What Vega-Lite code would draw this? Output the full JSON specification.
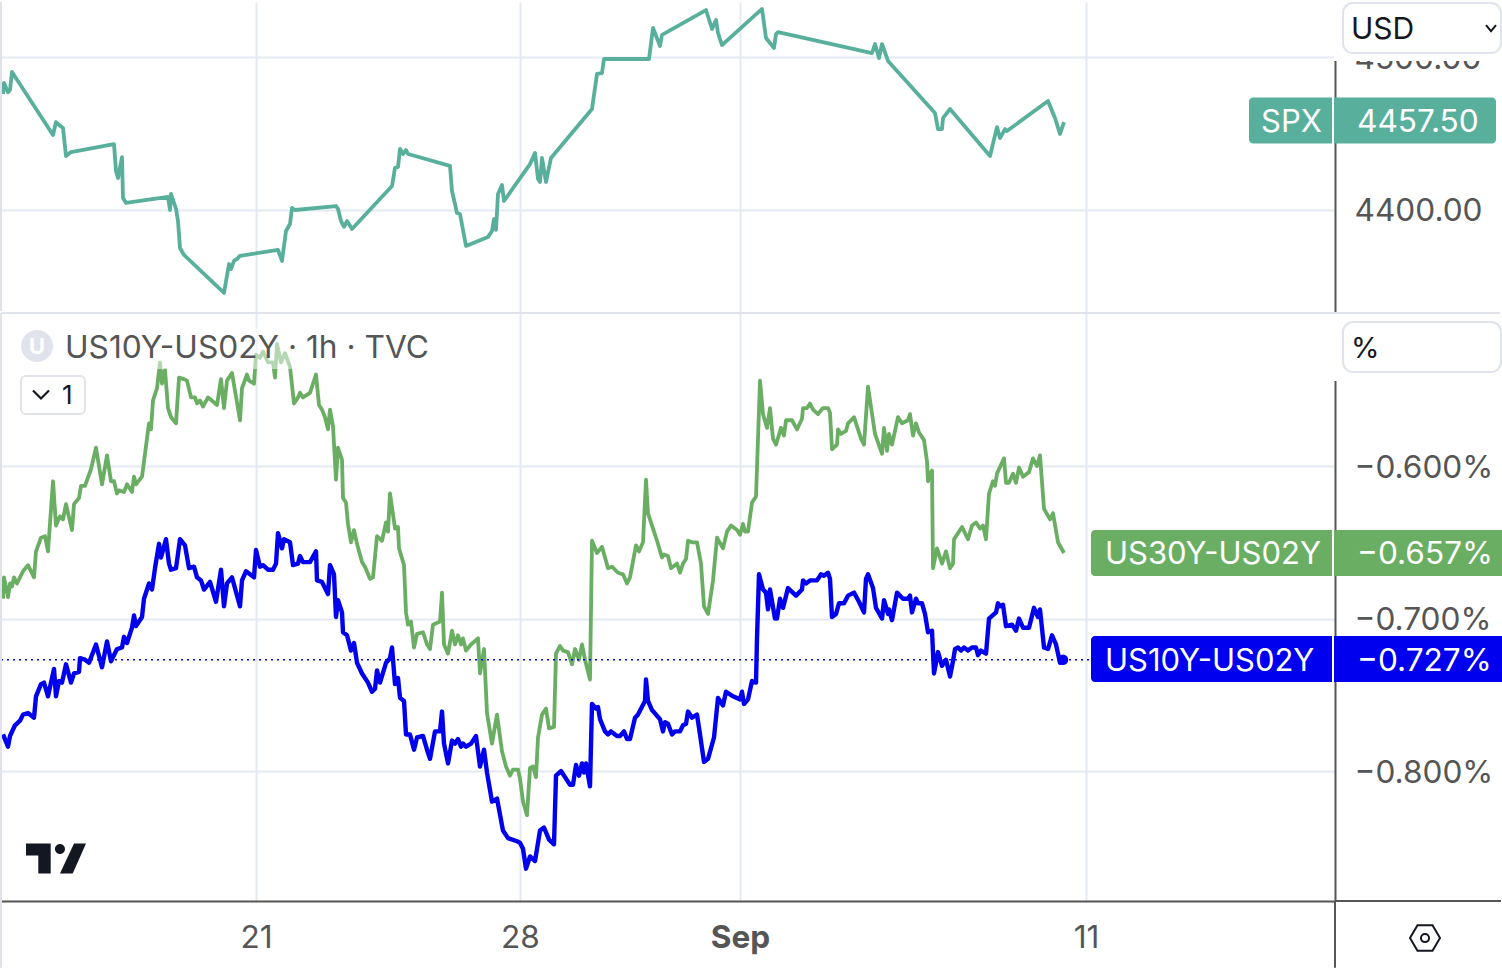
{"$schema":"https://vega.github.io/schema/vega-lite/v6.json","padding":0,"spacing":0,"background":"white","config":{"view":{"stroke":null},"font":"Inter","text":{"font":"Inter"},"axis":{"labelFont":"Inter","labelFontSize":31.6,"labelColor":"#555555","title":null,"gridColor":"#e3eaf3","gridWidth":2,"domainColor":"#555555","domainWidth":2,"ticks":false,"labelOverlap":false,"labelFlush":false}},
"datasets":{
"spx":[{"bar":1.5,"value":4475.8},{"bar":2,"value":4483},{"bar":4,"value":4477},{"bar":5,"value":4478.4},{"bar":6,"value":4490.2},{"bar":26.5,"value":4449},{"bar":28,"value":4457.5},{"bar":29.5,"value":4455.6},{"bar":31.5,"value":4453.6},{"bar":33,"value":4435.3},{"bar":35.5,"value":4437.9},{"bar":57,"value":4443.1},{"bar":58,"value":4425.5},{"bar":59,"value":4420.9},{"bar":61,"value":4434.6},{"bar":61.5,"value":4407.8},{"bar":63,"value":4404.6},{"bar":84,"value":4408.5},{"bar":85,"value":4400},{"bar":85.5,"value":4410.5},{"bar":88,"value":4400.7},{"bar":89,"value":4392.8},{"bar":90,"value":4375.2},{"bar":92,"value":4370.6},{"bar":112,"value":4345.8},{"bar":114.5,"value":4364.7},{"bar":115.5,"value":4361.4},{"bar":117,"value":4366.7},{"bar":118.5,"value":4368},{"bar":120,"value":4370},{"bar":139,"value":4373.9},{"bar":141,"value":4366.7},{"bar":143,"value":4386.3},{"bar":145,"value":4390.8},{"bar":146,"value":4401.3},{"bar":147.5,"value":4400},{"bar":168,"value":4402.6},{"bar":169,"value":4400.7},{"bar":170.5,"value":4392.8},{"bar":172,"value":4389},{"bar":173.5,"value":4392.8},{"bar":176,"value":4387.6},{"bar":196,"value":4415.7},{"bar":197.5,"value":4427.5},{"bar":199,"value":4428.1},{"bar":200,"value":4439.9},{"bar":201.5,"value":4436.6},{"bar":203,"value":4439.2},{"bar":204,"value":4436.6},{"bar":225,"value":4428.8},{"bar":226,"value":4412.4},{"bar":227.5,"value":4403.9},{"bar":228.5,"value":4398},{"bar":230,"value":4397.4},{"bar":233,"value":4376.5},{"bar":244,"value":4382.4},{"bar":246,"value":4386.3},{"bar":247,"value":4394.1},{"bar":248,"value":4387},{"bar":249,"value":4410.5},{"bar":251,"value":4416.3},{"bar":252,"value":4405.9},{"bar":265,"value":4430},{"bar":267.5,"value":4437.3},{"bar":269,"value":4420.3},{"bar":270,"value":4418.3},{"bar":271,"value":4434},{"bar":273,"value":4418.3},{"bar":275.5,"value":4434},{"bar":296,"value":4466},{"bar":298.5,"value":4488.9},{"bar":301,"value":4489.5},{"bar":302,"value":4498.7},{"bar":324.5,"value":4498.7},{"bar":326.5,"value":4519},{"bar":330,"value":4507.2},{"bar":331,"value":4514.4},{"bar":353,"value":4530.7},{"bar":356,"value":4518.3},{"bar":358,"value":4524.2},{"bar":359,"value":4515.7},{"bar":361,"value":4507.8},{"bar":381,"value":4531.4},{"bar":383,"value":4512.4},{"bar":387,"value":4505.9},{"bar":388,"value":4515},{"bar":389,"value":4516.3},{"bar":436,"value":4502.6},{"bar":437.5,"value":4508.5},{"bar":439.5,"value":4499.3},{"bar":441,"value":4508.5},{"bar":444,"value":4497.4},{"bar":467.5,"value":4463.4},{"bar":469,"value":4452.9},{"bar":471,"value":4452.9},{"bar":471.5,"value":4460.1},{"bar":475,"value":4466},{"bar":495,"value":4435.3},{"bar":498.5,"value":4454.2},{"bar":500,"value":4447},{"bar":502.5,"value":4452.9},{"bar":503.5,"value":4451.6},{"bar":524,"value":4471.2},{"bar":527.5,"value":4460.1},{"bar":530,"value":4449.7},{"bar":532,"value":4457.5}],
"us30":[{"bar":1.5,"value":-0.687},{"bar":2,"value":-0.673},{"bar":4,"value":-0.686},{"bar":5,"value":-0.677},{"bar":6,"value":-0.679},{"bar":7,"value":-0.673},{"bar":8.5,"value":-0.677},{"bar":11.5,"value":-0.669},{"bar":14,"value":-0.665},{"bar":17,"value":-0.673},{"bar":18,"value":-0.656},{"bar":20.5,"value":-0.647},{"bar":22.5,"value":-0.646},{"bar":24,"value":-0.656},{"bar":26.5,"value":-0.61},{"bar":28,"value":-0.639},{"bar":30,"value":-0.633},{"bar":31.5,"value":-0.635},{"bar":33,"value":-0.625},{"bar":36,"value":-0.642},{"bar":37,"value":-0.625},{"bar":39.5,"value":-0.621},{"bar":40.5,"value":-0.613},{"bar":42.5,"value":-0.613},{"bar":45.5,"value":-0.602},{"bar":48,"value":-0.588},{"bar":51,"value":-0.612},{"bar":53.5,"value":-0.593},{"bar":55.5,"value":-0.61},{"bar":57,"value":-0.61},{"bar":58.5,"value":-0.618},{"bar":59.5,"value":-0.616},{"bar":62,"value":-0.617},{"bar":63.5,"value":-0.612},{"bar":66,"value":-0.617},{"bar":67,"value":-0.607},{"bar":68,"value":-0.612},{"bar":71,"value":-0.607},{"bar":72.5,"value":-0.592},{"bar":74.5,"value":-0.572},{"bar":75.5,"value":-0.576},{"bar":76.5,"value":-0.557},{"bar":78.5,"value":-0.549},{"bar":80,"value":-0.532},{"bar":81,"value":-0.546},{"bar":82.5,"value":-0.537},{"bar":84,"value":-0.562},{"bar":85.5,"value":-0.568},{"bar":88,"value":-0.572},{"bar":89.5,"value":-0.542},{"bar":92,"value":-0.543},{"bar":93.5,"value":-0.544},{"bar":95.5,"value":-0.555},{"bar":97.5,"value":-0.555},{"bar":98.5,"value":-0.559},{"bar":100,"value":-0.557},{"bar":101.5,"value":-0.561},{"bar":104,"value":-0.555},{"bar":108.5,"value":-0.56},{"bar":110.5,"value":-0.543},{"bar":112,"value":-0.562},{"bar":113.5,"value":-0.544},{"bar":116,"value":-0.539},{"bar":120,"value":-0.57},{"bar":121,"value":-0.549},{"bar":123.5,"value":-0.54},{"bar":124.5,"value":-0.544},{"bar":127,"value":-0.546},{"bar":128,"value":-0.527},{"bar":130,"value":-0.529},{"bar":131.5,"value":-0.525},{"bar":134,"value":-0.532},{"bar":136.5,"value":-0.532},{"bar":137.5,"value":-0.542},{"bar":138.5,"value":-0.52},{"bar":140.5,"value":-0.532},{"bar":142.5,"value":-0.526},{"bar":145,"value":-0.535},{"bar":147,"value":-0.559},{"bar":149,"value":-0.555},{"bar":150,"value":-0.552},{"bar":151.5,"value":-0.555},{"bar":155,"value":-0.552},{"bar":158,"value":-0.54},{"bar":159.5,"value":-0.56},{"bar":161,"value":-0.563},{"bar":162.5,"value":-0.568},{"bar":164,"value":-0.576},{"bar":165,"value":-0.563},{"bar":166.5,"value":-0.574},{"bar":168,"value":-0.609},{"bar":169,"value":-0.588},{"bar":171,"value":-0.596},{"bar":171.5,"value":-0.621},{"bar":173,"value":-0.624},{"bar":174,"value":-0.638},{"bar":175.5,"value":-0.65},{"bar":177,"value":-0.642},{"bar":178.5,"value":-0.651},{"bar":181,"value":-0.663},{"bar":182.5,"value":-0.666},{"bar":185,"value":-0.674},{"bar":186.5,"value":-0.673},{"bar":188.5,"value":-0.646},{"bar":191,"value":-0.649},{"bar":193,"value":-0.637},{"bar":194,"value":-0.643},{"bar":195,"value":-0.618},{"bar":197.5,"value":-0.641},{"bar":199,"value":-0.64},{"bar":199.5,"value":-0.654},{"bar":202,"value":-0.665},{"bar":203,"value":-0.696},{"bar":204,"value":-0.704},{"bar":205.5,"value":-0.702},{"bar":207,"value":-0.719},{"bar":208.5,"value":-0.71},{"bar":211.5,"value":-0.709},{"bar":213.5,"value":-0.717},{"bar":215,"value":-0.72},{"bar":216.5,"value":-0.704},{"bar":220,"value":-0.702},{"bar":221,"value":-0.683},{"bar":222,"value":-0.717},{"bar":224,"value":-0.723},{"bar":226,"value":-0.708},{"bar":227.5,"value":-0.717},{"bar":229,"value":-0.711},{"bar":230.5,"value":-0.717},{"bar":231.5,"value":-0.713},{"bar":233,"value":-0.721},{"bar":235.5,"value":-0.717},{"bar":239,"value":-0.713},{"bar":240,"value":-0.736},{"bar":242,"value":-0.72},{"bar":243.5,"value":-0.762},{"bar":246,"value":-0.782},{"bar":248.5,"value":-0.763},{"bar":251,"value":-0.787},{"bar":253,"value":-0.797},{"bar":255,"value":-0.803},{"bar":256.5,"value":-0.799},{"bar":259,"value":-0.799},{"bar":260,"value":-0.805},{"bar":261.5,"value":-0.82},{"bar":263.5,"value":-0.829},{"bar":265,"value":-0.798},{"bar":266.5,"value":-0.797},{"bar":268,"value":-0.804},{"bar":269,"value":-0.778},{"bar":271,"value":-0.763},{"bar":273,"value":-0.759},{"bar":274.5,"value":-0.772},{"bar":277,"value":-0.771},{"bar":278,"value":-0.723},{"bar":280,"value":-0.718},{"bar":281.5,"value":-0.721},{"bar":284,"value":-0.722},{"bar":286,"value":-0.73},{"bar":287.5,"value":-0.72},{"bar":289.5,"value":-0.727},{"bar":291,"value":-0.717},{"bar":292.5,"value":-0.727},{"bar":295,"value":-0.74},{"bar":296,"value":-0.649},{"bar":298.5,"value":-0.657},{"bar":301,"value":-0.653},{"bar":304,"value":-0.667},{"bar":306,"value":-0.666},{"bar":309,"value":-0.67},{"bar":311.5,"value":-0.671},{"bar":313.5,"value":-0.677},{"bar":315,"value":-0.673},{"bar":318,"value":-0.652},{"bar":319.5,"value":-0.656},{"bar":321.5,"value":-0.65},{"bar":323,"value":-0.609},{"bar":324,"value":-0.631},{"bar":327,"value":-0.643},{"bar":328.5,"value":-0.649},{"bar":331,"value":-0.66},{"bar":332,"value":-0.658},{"bar":334,"value":-0.659},{"bar":335.5,"value":-0.667},{"bar":338.5,"value":-0.664},{"bar":340,"value":-0.67},{"bar":341.5,"value":-0.664},{"bar":343,"value":-0.661},{"bar":344,"value":-0.649},{"bar":346,"value":-0.65},{"bar":348.5,"value":-0.65},{"bar":350.5,"value":-0.664},{"bar":352,"value":-0.692},{"bar":354,"value":-0.697},{"bar":356.5,"value":-0.675},{"bar":358.5,"value":-0.647},{"bar":361.5,"value":-0.654},{"bar":363.5,"value":-0.643},{"bar":365.5,"value":-0.639},{"bar":368.5,"value":-0.642},{"bar":370,"value":-0.645},{"bar":371.5,"value":-0.638},{"bar":372.5,"value":-0.643},{"bar":374,"value":-0.643},{"bar":376,"value":-0.624},{"bar":378,"value":-0.62},{"bar":380,"value":-0.544},{"bar":381.5,"value":-0.566},{"bar":383.5,"value":-0.575},{"bar":385,"value":-0.562},{"bar":386.5,"value":-0.582},{"bar":388,"value":-0.586},{"bar":390.5,"value":-0.575},{"bar":392,"value":-0.58},{"bar":393,"value":-0.57},{"bar":396,"value":-0.57},{"bar":398.5,"value":-0.576},{"bar":401,"value":-0.569},{"bar":401.5,"value":-0.562},{"bar":403.5,"value":-0.562},{"bar":405,"value":-0.559},{"bar":406.5,"value":-0.563},{"bar":409,"value":-0.566},{"bar":411.5,"value":-0.562},{"bar":414,"value":-0.562},{"bar":415,"value":-0.565},{"bar":416,"value":-0.589},{"bar":418.5,"value":-0.586},{"bar":419,"value":-0.576},{"bar":420.5,"value":-0.579},{"bar":423,"value":-0.577},{"bar":424,"value":-0.572},{"bar":427,"value":-0.568},{"bar":430.5,"value":-0.582},{"bar":432,"value":-0.586},{"bar":434,"value":-0.548},{"bar":437.5,"value":-0.579},{"bar":441,"value":-0.592},{"bar":442,"value":-0.575},{"bar":443.5,"value":-0.59},{"bar":444.5,"value":-0.579},{"bar":446,"value":-0.586},{"bar":449,"value":-0.568},{"bar":451,"value":-0.572},{"bar":454,"value":-0.57},{"bar":455,"value":-0.566},{"bar":456.5,"value":-0.58},{"bar":458,"value":-0.572},{"bar":459.5,"value":-0.578},{"bar":462,"value":-0.583},{"bar":463.5,"value":-0.597},{"bar":464,"value":-0.61},{"bar":465,"value":-0.605},{"bar":466,"value":-0.603},{"bar":466.5,"value":-0.667},{"bar":468.5,"value":-0.654},{"bar":471,"value":-0.664},{"bar":473,"value":-0.656},{"bar":475,"value":-0.667},{"bar":476.5,"value":-0.664},{"bar":477,"value":-0.648},{"bar":481,"value":-0.64},{"bar":484,"value":-0.648},{"bar":486,"value":-0.639},{"bar":488,"value":-0.637},{"bar":490,"value":-0.641},{"bar":491.5,"value":-0.639},{"bar":493,"value":-0.648},{"bar":494.5,"value":-0.618},{"bar":496.5,"value":-0.61},{"bar":497.5,"value":-0.613},{"bar":498.5,"value":-0.605},{"bar":502,"value":-0.595},{"bar":503,"value":-0.611},{"bar":504.5,"value":-0.611},{"bar":506.5,"value":-0.605},{"bar":508,"value":-0.611},{"bar":509.5,"value":-0.601},{"bar":511.5,"value":-0.607},{"bar":514.5,"value":-0.604},{"bar":516.5,"value":-0.595},{"bar":518.5,"value":-0.6},{"bar":520,"value":-0.593},{"bar":522,"value":-0.628},{"bar":525,"value":-0.635},{"bar":526.5,"value":-0.631},{"bar":529,"value":-0.65},{"bar":532,"value":-0.657}],
"us10":[{"bar":1.5,"value":-0.776},{"bar":4,"value":-0.784},{"bar":5,"value":-0.777},{"bar":7.5,"value":-0.77},{"bar":10,"value":-0.767},{"bar":11.5,"value":-0.763},{"bar":14,"value":-0.762},{"bar":17,"value":-0.765},{"bar":18,"value":-0.751},{"bar":20.5,"value":-0.743},{"bar":22,"value":-0.742},{"bar":24,"value":-0.751},{"bar":27,"value":-0.733},{"bar":28,"value":-0.751},{"bar":29.5,"value":-0.741},{"bar":31,"value":-0.742},{"bar":33,"value":-0.73},{"bar":35.5,"value":-0.742},{"bar":37,"value":-0.736},{"bar":39.5,"value":-0.735},{"bar":40,"value":-0.726},{"bar":42.5,"value":-0.727},{"bar":44.5,"value":-0.729},{"bar":48,"value":-0.717},{"bar":51,"value":-0.732},{"bar":53.5,"value":-0.715},{"bar":55.5,"value":-0.728},{"bar":58.5,"value":-0.72},{"bar":61,"value":-0.719},{"bar":62,"value":-0.712},{"bar":63.5,"value":-0.716},{"bar":66,"value":-0.706},{"bar":67,"value":-0.698},{"bar":68,"value":-0.705},{"bar":71,"value":-0.699},{"bar":72,"value":-0.687},{"bar":74.5,"value":-0.677},{"bar":76,"value":-0.681},{"bar":77.5,"value":-0.667},{"bar":79.5,"value":-0.651},{"bar":80.5,"value":-0.66},{"bar":83,"value":-0.648},{"bar":84.5,"value":-0.664},{"bar":85.5,"value":-0.668},{"bar":88,"value":-0.667},{"bar":90,"value":-0.648},{"bar":92.5,"value":-0.652},{"bar":94.5,"value":-0.667},{"bar":97,"value":-0.666},{"bar":98.5,"value":-0.673},{"bar":100.5,"value":-0.675},{"bar":102,"value":-0.681},{"bar":105,"value":-0.676},{"bar":108,"value":-0.689},{"bar":110.5,"value":-0.668},{"bar":112,"value":-0.692},{"bar":113.5,"value":-0.677},{"bar":116,"value":-0.673},{"bar":120,"value":-0.692},{"bar":121,"value":-0.675},{"bar":123,"value":-0.669},{"bar":127,"value":-0.673},{"bar":128,"value":-0.655},{"bar":130,"value":-0.666},{"bar":131.5,"value":-0.665},{"bar":134,"value":-0.668},{"bar":136.5,"value":-0.668},{"bar":138,"value":-0.664},{"bar":139,"value":-0.644},{"bar":141,"value":-0.654},{"bar":142,"value":-0.648},{"bar":145,"value":-0.65},{"bar":146.5,"value":-0.665},{"bar":149,"value":-0.664},{"bar":150,"value":-0.659},{"bar":151.5,"value":-0.663},{"bar":155,"value":-0.663},{"bar":158,"value":-0.656},{"bar":158.5,"value":-0.675},{"bar":161,"value":-0.676},{"bar":164,"value":-0.684},{"bar":165,"value":-0.665},{"bar":167,"value":-0.671},{"bar":168,"value":-0.699},{"bar":169,"value":-0.688},{"bar":171,"value":-0.696},{"bar":171.5,"value":-0.709},{"bar":173.5,"value":-0.711},{"bar":175.5,"value":-0.721},{"bar":177,"value":-0.716},{"bar":178.5,"value":-0.729},{"bar":181,"value":-0.736},{"bar":184,"value":-0.742},{"bar":186,"value":-0.748},{"bar":187.5,"value":-0.746},{"bar":188.5,"value":-0.734},{"bar":190,"value":-0.742},{"bar":193,"value":-0.729},{"bar":195,"value":-0.726},{"bar":196,"value":-0.719},{"bar":197.5,"value":-0.743},{"bar":199,"value":-0.739},{"bar":200,"value":-0.752},{"bar":202,"value":-0.754},{"bar":203,"value":-0.776},{"bar":205,"value":-0.776},{"bar":207,"value":-0.786},{"bar":208.5,"value":-0.778},{"bar":211.5,"value":-0.777},{"bar":213.5,"value":-0.786},{"bar":215,"value":-0.792},{"bar":217.5,"value":-0.774},{"bar":220,"value":-0.774},{"bar":221,"value":-0.761},{"bar":222,"value":-0.782},{"bar":224,"value":-0.795},{"bar":226,"value":-0.78},{"bar":227.5,"value":-0.782},{"bar":229,"value":-0.779},{"bar":230.5,"value":-0.784},{"bar":231.5,"value":-0.782},{"bar":233,"value":-0.784},{"bar":235.5,"value":-0.782},{"bar":238,"value":-0.777},{"bar":240,"value":-0.797},{"bar":242,"value":-0.786},{"bar":243.5,"value":-0.801},{"bar":246,"value":-0.82},{"bar":248.5,"value":-0.818},{"bar":251.5,"value":-0.839},{"bar":254,"value":-0.844},{"bar":258.5,"value":-0.846},{"bar":260,"value":-0.847},{"bar":261.5,"value":-0.851},{"bar":263,"value":-0.864},{"bar":265,"value":-0.856},{"bar":267.5,"value":-0.859},{"bar":270,"value":-0.839},{"bar":272,"value":-0.837},{"bar":274.5,"value":-0.845},{"bar":277,"value":-0.848},{"bar":278,"value":-0.803},{"bar":280.5,"value":-0.8},{"bar":282.5,"value":-0.804},{"bar":285,"value":-0.809},{"bar":286.5,"value":-0.809},{"bar":288,"value":-0.796},{"bar":289.5,"value":-0.803},{"bar":291,"value":-0.795},{"bar":292,"value":-0.801},{"bar":293,"value":-0.795},{"bar":295,"value":-0.81},{"bar":296,"value":-0.756},{"bar":298,"value":-0.759},{"bar":299,"value":-0.758},{"bar":300,"value":-0.766},{"bar":302.5,"value":-0.774},{"bar":304,"value":-0.776},{"bar":305.5,"value":-0.774},{"bar":308.5,"value":-0.777},{"bar":310,"value":-0.777},{"bar":312,"value":-0.774},{"bar":313.5,"value":-0.779},{"bar":315,"value":-0.779},{"bar":317.5,"value":-0.765},{"bar":319,"value":-0.763},{"bar":322.5,"value":-0.754},{"bar":323,"value":-0.74},{"bar":324,"value":-0.754},{"bar":326,"value":-0.76},{"bar":328,"value":-0.763},{"bar":330,"value":-0.766},{"bar":331.5,"value":-0.774},{"bar":332.5,"value":-0.768},{"bar":334,"value":-0.769},{"bar":336,"value":-0.776},{"bar":337.5,"value":-0.774},{"bar":340,"value":-0.774},{"bar":341.5,"value":-0.77},{"bar":343,"value":-0.769},{"bar":344,"value":-0.761},{"bar":346,"value":-0.765},{"bar":348.5,"value":-0.763},{"bar":350,"value":-0.776},{"bar":352,"value":-0.794},{"bar":354,"value":-0.792},{"bar":357,"value":-0.778},{"bar":359,"value":-0.752},{"bar":361.5,"value":-0.757},{"bar":363,"value":-0.748},{"bar":366.5,"value":-0.751},{"bar":370,"value":-0.753},{"bar":371,"value":-0.748},{"bar":372,"value":-0.756},{"bar":374,"value":-0.753},{"bar":376,"value":-0.741},{"bar":378,"value":-0.742},{"bar":378.5,"value":-0.713},{"bar":379.5,"value":-0.671},{"bar":381.5,"value":-0.681},{"bar":383,"value":-0.683},{"bar":384,"value":-0.694},{"bar":385,"value":-0.681},{"bar":387.5,"value":-0.7},{"bar":388.5,"value":-0.7},{"bar":390,"value":-0.687},{"bar":391.5,"value":-0.693},{"bar":394,"value":-0.68},{"bar":398,"value":-0.685},{"bar":401,"value":-0.681},{"bar":401.5,"value":-0.675},{"bar":403,"value":-0.677},{"bar":405,"value":-0.675},{"bar":408.5,"value":-0.675},{"bar":410.5,"value":-0.671},{"bar":412,"value":-0.672},{"bar":414,"value":-0.67},{"bar":415,"value":-0.674},{"bar":416,"value":-0.699},{"bar":418,"value":-0.697},{"bar":419.5,"value":-0.69},{"bar":422,"value":-0.69},{"bar":424,"value":-0.685},{"bar":427,"value":-0.683},{"bar":429.5,"value":-0.689},{"bar":432,"value":-0.696},{"bar":433,"value":-0.674},{"bar":434,"value":-0.671},{"bar":436.5,"value":-0.68},{"bar":438,"value":-0.693},{"bar":441,"value":-0.7},{"bar":442,"value":-0.688},{"bar":444,"value":-0.697},{"bar":444.5,"value":-0.694},{"bar":446,"value":-0.701},{"bar":448.5,"value":-0.683},{"bar":451.5,"value":-0.687},{"bar":454,"value":-0.687},{"bar":455,"value":-0.685},{"bar":456,"value":-0.696},{"bar":458,"value":-0.687},{"bar":459,"value":-0.69},{"bar":461,"value":-0.69},{"bar":462.5,"value":-0.697},{"bar":464,"value":-0.709},{"bar":466,"value":-0.708},{"bar":467,"value":-0.736},{"bar":469,"value":-0.722},{"bar":471,"value":-0.731},{"bar":473,"value":-0.727},{"bar":475,"value":-0.738},{"bar":476.5,"value":-0.728},{"bar":477.5,"value":-0.72},{"bar":479,"value":-0.719},{"bar":480.5,"value":-0.721},{"bar":482,"value":-0.719},{"bar":484,"value":-0.721},{"bar":486,"value":-0.719},{"bar":488,"value":-0.719},{"bar":489,"value":-0.724},{"bar":490.5,"value":-0.721},{"bar":493,"value":-0.723},{"bar":494.5,"value":-0.7},{"bar":498,"value":-0.696},{"bar":499,"value":-0.69},{"bar":500,"value":-0.692},{"bar":501.5,"value":-0.691},{"bar":503,"value":-0.705},{"bar":506,"value":-0.704},{"bar":508,"value":-0.708},{"bar":509.5,"value":-0.7},{"bar":511.5,"value":-0.706},{"bar":514.5,"value":-0.706},{"bar":517,"value":-0.693},{"bar":519,"value":-0.699},{"bar":520,"value":-0.694},{"bar":522,"value":-0.719},{"bar":524,"value":-0.72},{"bar":526,"value":-0.711},{"bar":528,"value":-0.717},{"bar":530,"value":-0.729},{"bar":531.5,"value":-0.727}],
"labelsTop":[{"name":"SPX","value":4457.5,"label":"4457.50"}],
"labelsBottom":[{"name":"US30Y-US02Y","value":-0.657,"label":"−0.657%"},{"name":"US10Y-US02Y","value":-0.727,"label":"−0.727%"}],
"one":[{}]},
"vconcat":[
{"width":1334,"height":310,"layer":[
{"data":{"name":"spx"},"mark":{"type":"line","stroke":"#58b09c","strokeWidth":3.8,"strokeJoin":"round"},"encoding":{"x":{"field":"bar","type":"quantitative","scale":{"domain":[0.5,667.5],"nice":false,"zero":false},"axis":{"title":null,"values":[128,260,370,543],"labels":false,"domain":false,"grid":true}},"y":{"field":"value","type":"quantitative","scale":{"domain":[4333.33,4535.95],"nice":false,"zero":false},"axis":{"title":null,"orient":"right","values":[4400,4500],"labelExpr":"format(datum.value,'.2f')","labelPadding":19,"labelOffset":2,"grid":true}}}},
{"data":{"name":"one"},"mark":{"type":"rule","stroke":"#e0e3eb","strokeWidth":2},"encoding":{"x":{"datum":0.5,"axis":{"title":null}},"y":{"datum":4334,"axis":{"title":null}},"y2":{"datum":4536}}},
{"data":{"name":"one"},"mark":{"type":"rect","fill":"white"},"encoding":{"x":{"datum":667,"axis":{"title":null}},"x2":{"datum":751},"y":{"datum":4536.6,"axis":{"title":null}},"y2":{"datum":4497.4}}},
{"data":{"name":"one"},"mark":{"type":"rect","fill":"white","stroke":"#e0e3eb","strokeWidth":2,"cornerRadius":10},"encoding":{"x":{"datum":671.5,"axis":{"title":null}},"x2":{"datum":750.5},"y":{"datum":4535.3,"axis":{"title":null}},"y2":{"datum":4502.6}}},
{"data":{"name":"one"},"mark":{"type":"text","align":"left","baseline":"middle","fontSize":30,"fill":"#131722","text":"USD","dy":1},"encoding":{"x":{"datum":675.5,"axis":{"title":null}},"y":{"datum":4518.3,"axis":{"title":null}}}},
{"data":{"name":"one"},"mark":{"type":"point","shape":"M-1,-0.6L0,0.6L1,-0.6","size":100,"filled":false,"stroke":"#131722","strokeWidth":2,"opacity":1},"encoding":{"x":{"datum":745.5,"axis":{"title":null}},"y":{"datum":4518.9,"axis":{"title":null}}}},
{"data":{"name":"one"},"mark":{"type":"rect","fill":"#58b09c","cornerRadiusTopLeft":4,"cornerRadiusBottomLeft":4},"encoding":{"x":{"datum":624.5,"axis":{"title":null}},"x2":{"datum":666},"y":{"datum":4473.5,"axis":{"title":null}},"y2":{"datum":4443.5}}},
{"data":{"name":"one"},"mark":{"type":"rect","fill":"#58b09c","cornerRadiusTopRight":4,"cornerRadiusBottomRight":4},"encoding":{"x":{"datum":667,"axis":{"title":null}},"x2":{"datum":748},"y":{"datum":4473.5,"axis":{"title":null}},"y2":{"datum":4443.5}}},
{"data":{"name":"labelsTop"},"mark":{"type":"text","align":"left","baseline":"middle","fontSize":31,"fill":"white","dy":1},"encoding":{"x":{"datum":630.5,"axis":{"title":null}},"y":{"field":"value","type":"quantitative","axis":{"title":null}},"text":{"field":"name"}}},
{"data":{"name":"labelsTop"},"mark":{"type":"text","align":"left","baseline":"middle","fontSize":31.6,"fill":"white","dy":1},"encoding":{"x":{"datum":678.5,"axis":{"title":null}},"y":{"field":"value","type":"quantitative","axis":{"title":null}},"text":{"field":"label"}}}
]},
{"width":1334,"height":588,"layer":[
{"data":{"name":"us30"},"mark":{"type":"line","stroke":"#69ae62","strokeWidth":3.8,"strokeJoin":"round"},"encoding":{"x":{"field":"bar","type":"quantitative","scale":{"domain":[0.5,667.5],"nice":false,"zero":false},"axis":{"title":null,"values":[128,260,370,543],"labelExpr":"datum.value==128?'21':datum.value==260?'28':datum.value==370?'Sep':'11'","labelPadding":21,"grid":true,"labelFontWeight":{"condition":{"test":"datum.value==370","value":"bold"},"value":"normal"},"domain":true}},"y":{"field":"value","type":"quantitative","scale":{"domain":[-0.8852,-0.49967],"nice":false,"zero":false},"axis":{"title":null,"orient":"right","values":[-0.6,-0.7,-0.8],"labelExpr":"format(datum.value,'.3f')+'%'","labelPadding":19,"labelOffset":2,"grid":true}}}},
{"data":{"name":"one"},"mark":{"type":"rule","stroke":"#0000ee","strokeWidth":1.5,"strokeDash":[2,4]},"encoding":{"x":{"datum":0.5,"axis":{"title":null}},"x2":{"datum":545.5},"y":{"datum":-0.727,"axis":{"title":null}}}},
{"data":{"name":"us10"},"mark":{"type":"line","stroke":"#0000ee","strokeWidth":4.4,"strokeJoin":"round"},"encoding":{"x":{"field":"bar","type":"quantitative","axis":{"title":null}},"y":{"field":"value","type":"quantitative","axis":{"title":null}}}},
{"data":{"name":"one"},"mark":{"type":"point","filled":true,"fill":"#0000ee","size":110,"opacity":1},"encoding":{"x":{"datum":531.5,"axis":{"title":null}},"y":{"datum":-0.727,"axis":{"title":null}}}},
{"data":{"name":"one"},"mark":{"type":"rule","stroke":"#e0e3eb","strokeWidth":2},"encoding":{"x":{"datum":0.5,"axis":{"title":null}},"y":{"datum":-0.929,"axis":{"title":null}},"y2":{"datum":-0.49967}}},
{"data":{"name":"one"},"mark":{"type":"rect","fill":"white"},"encoding":{"x":{"datum":667,"axis":{"title":null}},"x2":{"datum":751},"y":{"datum":-0.5002,"axis":{"title":null}},"y2":{"datum":-0.5443}}},
{"data":{"name":"one"},"mark":{"type":"rule","stroke":"#e0e3eb","strokeWidth":2},"encoding":{"x":{"datum":0.75,"axis":{"title":null}},"x2":{"datum":750},"y":{"datum":-0.49967,"axis":{"title":null}}}},
{"data":{"name":"one"},"mark":{"type":"rule","stroke":"#555555","strokeWidth":2},"encoding":{"x":{"datum":667.5,"axis":{"title":null}},"x2":{"datum":750.5},"y":{"datum":-0.8852,"axis":{"title":null}}}},
{"data":{"name":"one"},"mark":{"type":"rule","stroke":"#555555","strokeWidth":2},"encoding":{"x":{"datum":667.5,"axis":{"title":null}},"y":{"datum":-0.8852,"axis":{"title":null}},"y2":{"datum":-0.929}}},
{"data":{"name":"one"},"mark":{"type":"rect","fill":"white","stroke":"#e0e3eb","strokeWidth":2,"cornerRadius":10},"encoding":{"x":{"datum":671.5,"axis":{"title":null}},"x2":{"datum":750.5},"y":{"datum":-0.5056,"axis":{"title":null}},"y2":{"datum":-0.5384}}},
{"data":{"name":"one"},"mark":{"type":"text","align":"left","baseline":"middle","fontSize":29,"fill":"#131722","text":"%","dy":1},"encoding":{"x":{"datum":675.5,"axis":{"title":null}},"y":{"datum":-0.5226,"axis":{"title":null}}}},
{"data":{"name":"one"},"mark":{"type":"rect","fill":"white","opacity":0.5},"encoding":{"x":{"datum":30,"axis":{"title":null}},"x2":{"datum":216},"y":{"datum":-0.509,"axis":{"title":null}},"y2":{"datum":-0.5364}}},
{"data":{"name":"one"},"mark":{"type":"point","shape":"circle","filled":true,"fill":"#e0e3eb","size":1018,"opacity":1},"encoding":{"x":{"datum":18.5,"axis":{"title":null}},"y":{"datum":-0.5213,"axis":{"title":null}}}},
{"data":{"name":"one"},"mark":{"type":"text","align":"center","baseline":"middle","fontSize":22,"fontWeight":"bold","fill":"white","text":"U","dy":1},"encoding":{"x":{"datum":18.5,"axis":{"title":null}},"y":{"datum":-0.5213,"axis":{"title":null}}}},
{"data":{"name":"one"},"mark":{"type":"text","align":"left","baseline":"middle","fontSize":31.7,"fill":"#555555","text":"US10Y-US02Y · 1h · TVC","dy":2},"encoding":{"x":{"datum":32.5,"axis":{"title":null}},"y":{"datum":-0.5213,"axis":{"title":null}}}},
{"data":{"name":"one"},"mark":{"type":"rect","fill":"white","stroke":"#e0e3eb","strokeWidth":2,"cornerRadius":5},"encoding":{"x":{"datum":10.5,"axis":{"title":null}},"x2":{"datum":42.5},"y":{"datum":-0.541,"axis":{"title":null}},"y2":{"datum":-0.5659}}},
{"data":{"name":"one"},"mark":{"type":"point","shape":"M-1,-0.5L0,0.5L1,-0.5","size":256,"filled":false,"stroke":"#131722","strokeWidth":2.2,"opacity":1},"encoding":{"x":{"datum":20.5,"axis":{"title":null}},"y":{"datum":-0.5531,"axis":{"title":null}}}},
{"data":{"name":"one"},"mark":{"type":"text","align":"left","baseline":"middle","fontSize":26,"fill":"#131722","text":"1","dy":1},"encoding":{"x":{"datum":31,"axis":{"title":null}},"y":{"datum":-0.5534,"axis":{"title":null}}}},
{"data":{"name":"one"},"mark":{"type":"point","shape":"M-1,-0.5L-0.177,-0.5L-0.177,0.5L-0.59,0.5L-0.59,-0.1L-1,-0.1ZM-0.034,-0.323a0.167,0.167 0 1 0 0.334,0a0.167,0.167 0 1 0 -0.334,0ZM0.6,-0.5L1,-0.5L0.557,0.5L0.133,0.5Z","size":3600,"filled":true,"fill":"#131722","opacity":1,"strokeWidth":0},"encoding":{"x":{"datum":28,"axis":{"title":null}},"y":{"datum":-0.8574,"axis":{"title":null}}}},
{"data":{"name":"one"},"mark":{"type":"point","shape":"M-1,0L-0.5,-0.85L0.5,-0.85L1,0L0.5,0.85L-0.5,0.85ZM-0.27,0a0.27,0.27 0 1 0 0.54,0a0.27,0.27 0 1 0 -0.54,0Z","size":900,"filled":false,"stroke":"#131722","strokeWidth":2,"opacity":1},"encoding":{"x":{"datum":712.5,"axis":{"title":null}},"y":{"datum":-0.9095,"axis":{"title":null}}}},
{"data":{"name":"one"},"mark":{"type":"rect","fill":"#69ae62","cornerRadiusTopLeft":4,"cornerRadiusBottomLeft":4},"encoding":{"x":{"datum":545.5,"axis":{"title":null}},"x2":{"datum":666},"y":{"datum":-0.642,"axis":{"title":null}},"y2":{"datum":-0.6721}}},
{"data":{"name":"one"},"mark":{"type":"rect","fill":"#69ae62"},"encoding":{"x":{"datum":667,"axis":{"title":null}},"x2":{"datum":751},"y":{"datum":-0.642,"axis":{"title":null}},"y2":{"datum":-0.6721}}},
{"data":{"name":"one"},"mark":{"type":"rect","fill":"#0000ee","cornerRadiusTopLeft":4,"cornerRadiusBottomLeft":4},"encoding":{"x":{"datum":545.5,"axis":{"title":null}},"x2":{"datum":666},"y":{"datum":-0.7115,"axis":{"title":null}},"y2":{"datum":-0.7416}}},
{"data":{"name":"one"},"mark":{"type":"rect","fill":"#0000ee"},"encoding":{"x":{"datum":667,"axis":{"title":null}},"x2":{"datum":751},"y":{"datum":-0.7115,"axis":{"title":null}},"y2":{"datum":-0.7416}}},
{"data":{"name":"labelsBottom"},"mark":{"type":"text","align":"left","baseline":"middle","fontSize":31,"fill":"white","dy":2},"encoding":{"x":{"datum":552.5,"axis":{"title":null}},"y":{"field":"value","type":"quantitative","axis":{"title":null}},"text":{"field":"name"}}},
{"data":{"name":"labelsBottom"},"mark":{"type":"text","align":"left","baseline":"middle","fontSize":31.6,"fill":"white","dy":2},"encoding":{"x":{"datum":678.5,"axis":{"title":null}},"y":{"field":"value","type":"quantitative","axis":{"title":null}},"text":{"field":"label"}}}
]}
]}
